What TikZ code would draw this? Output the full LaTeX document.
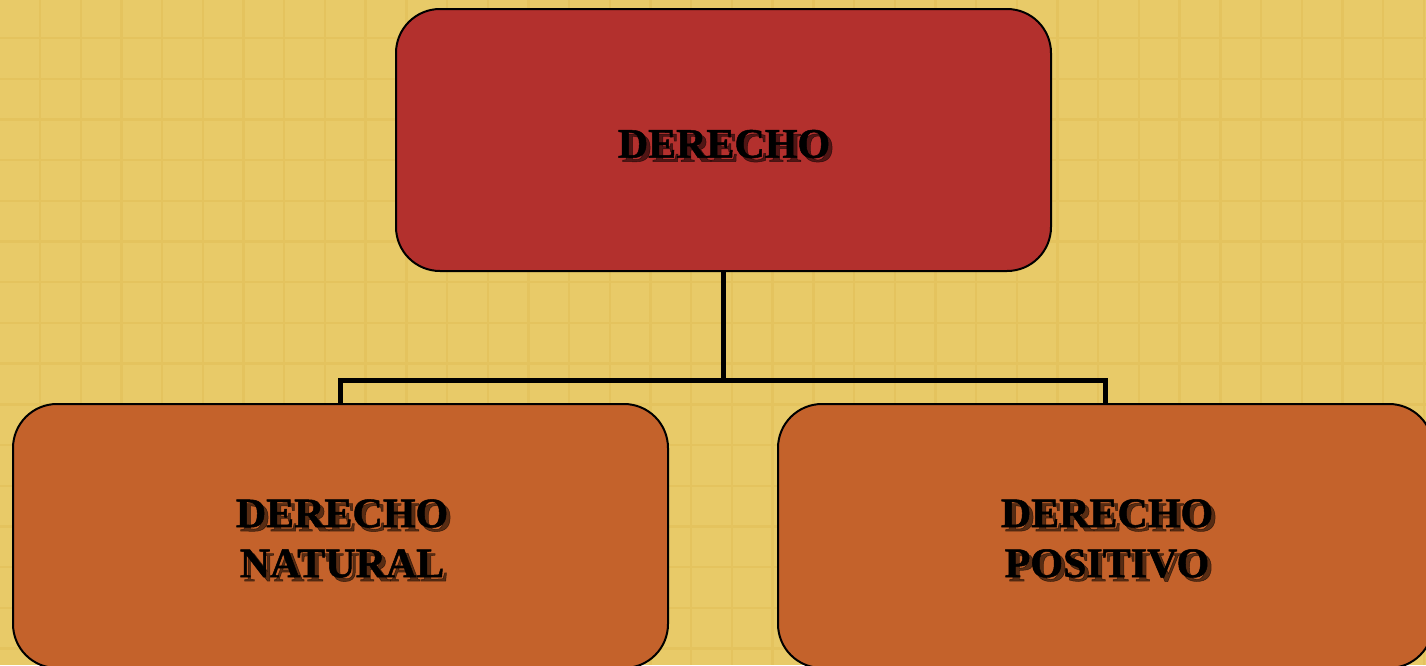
\documentclass[tikz,border=0pt]{standalone}
\usepackage{fontspec}
\setmainfont{Liberation Serif}[BoldFeatures={FakeBold=1.2}]
\usetikzlibrary{positioning}
\definecolor{sand}{HTML}{E8CA68}
\definecolor{sandline}{HTML}{E4C35E}
\definecolor{rootred}{HTML}{B3302D}
\definecolor{leaforange}{HTML}{C4622B}

\begin{document}
\begin{tikzpicture}[x=0.5pt,y=-0.5pt,
    root/.style={draw=black,line width=1pt,fill=rootred,rounded corners=22pt,
      minimum width=327.5pt,minimum height=131pt},
    leaf/.style={root,fill=leaforange,minimum height=132pt},
    caption/.style={align=center,inner sep=0pt,text=black,
      font=\fontsize{21}{25}\selectfont\bfseries},
    textshade/.style={caption,text opacity=0.55,xshift=2pt,yshift=-2pt},
    link/.style={line width=2.5pt},
    gridline/.style={sandline,line width=1.2pt}]
\clip (0,0) rectangle (1426,665);
\useasboundingbox (0,0) rectangle (1426,665);
\fill[sand] (0,0) rectangle (1426,665);
\foreach \k in {0,...,34} \draw[gridline] ({40+40.7*\k},0) -- ++(0,665);
\foreach \k in {0,...,15} \draw[gridline] (0,{38+40.7*\k}) -- ++(1426,0);

\node[root] (derecho) at (723.5,140) {};
\node[leaf] (natural) at (340.5,536) {};
\node[leaf] (positivo) at (1105.5,536) {};

% drop shadows of the captions
\node[textshade] (derecho-sh) at (724,144) {DERECHO};
\node[textshade] (natural-sh) at (342,538.5) {DERECHO\\NATURAL};
\node[textshade] (positivo-sh) at (1107,538.5) {DERECHO\\POSITIVO};

\node[caption] (derecho-txt) at (724,144) {DERECHO};
\node[caption] (natural-txt) at (342,538.5) {DERECHO\\NATURAL};
\node[caption] (positivo-txt) at (1107,538.5) {DERECHO\\POSITIVO};

\coordinate (split) at (723.5,380);
\draw[link] (derecho.south) -- (split);
\draw[link] (natural.north) |- (split) -| (positivo.north);
\end{tikzpicture}
\end{document}
